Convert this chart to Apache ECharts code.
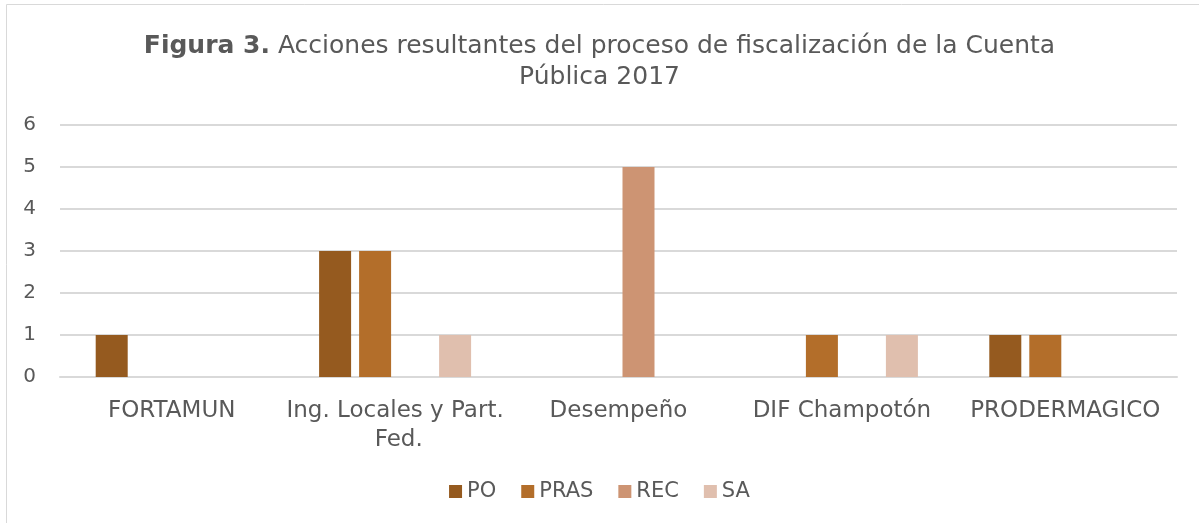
<!DOCTYPE html>
<html>
<head>
<meta charset="utf-8">
<script src="https://cdn.jsdelivr.net/npm/echarts@6/dist/echarts.min.js"></script>
<style>
html, body { margin: 0; padding: 0; background: #fff; }
#chart { width: 1199px; height: 523px; }
</style>
</head>
<body>
<div id="chart"></div>
<script>
// datos de la figura
var categorias = ['FORTAMUN', 'Ing. Locales y Part. Fed.', 'Desempeño', 'DIF Champotón', 'PRODERMAGICO'];
var po = [1, 3, null, null, 1];
var pras = [null, 3, null, 1, 1];
var rec = [null, null, 5, null, null];
var sa = [null, 1, null, 1, null];
var yTicks = [0, 1, 2, 3, 4, 5, 6];

var fuente = 'DejaVu Sans';
var gris = '#595959';

var myChart = echarts.init(document.getElementById('chart'));
var option = {
	animation: false,
	color: ['#955a1f', '#b36e2a', '#cd9473', '#e0bfae'],
	graphic: [{
		type: 'rect',
		shape: { x: 6.5, y: 4.5, width: 1220, height: 600 },
		style: { fill: 'none', stroke: '#d9d9d9', lineWidth: 1 }
	}],
	title: {
		text: '{b|Figura 3.} Acciones resultantes del proceso de fiscalización de la Cuenta\nPública 2017',
		left: 'center',
		top: 26,
		textStyle: {
			fontFamily: fuente,
			fontSize: 25,
			fontWeight: 'normal',
			color: gris,
			lineHeight: 31,
			rich: {
				b: { fontFamily: fuente, fontSize: 25, fontWeight: 'bold', color: gris }
			}
		}
	},
	legend: {
		bottom: 16,
		left: 'center',
		itemWidth: 13,
		itemHeight: 13,
		itemGap: 25,
		icon: 'rect',
		textStyle: { fontFamily: fuente, fontSize: 21, color: gris },
		data: ['PO', 'PRAS', 'REC', 'SA']
	},
	grid: { left: 60, right: 22, top: 125, bottom: 146 },
	xAxis: {
		type: 'category',
		data: categorias,
		axisLine: { lineStyle: { color: '#d9d9d9', width: 2 } },
		axisTick: { show: false },
		axisLabel: {
			fontFamily: fuente,
			fontSize: 23,
			color: gris,
			margin: 20,
			width: 222,
			overflow: 'break',
			lineHeight: 29,
			interval: 0
		}
	},
	yAxis: {
		type: 'value',
		min: yTicks[0],
		max: yTicks[yTicks.length - 1],
		interval: 1,
		axisLabel: { fontFamily: fuente, fontSize: 20, color: gris, margin: 24 },
		splitLine: { lineStyle: { color: '#d9d9d9', width: 2 } },
		axisLine: { show: false },
		axisTick: { show: false }
	},
	series: [
		{ name: 'PO', type: 'bar', data: po, barWidth: 32, barGap: '25%' },
		{ name: 'PRAS', type: 'bar', data: pras, barWidth: 32, barGap: '25%' },
		{ name: 'REC', type: 'bar', data: rec, barWidth: 32, barGap: '25%' },
		{ name: 'SA', type: 'bar', data: sa, barWidth: 32, barGap: '25%' }
	]
};
myChart.setOption(option);
</script>
</body>
</html>
